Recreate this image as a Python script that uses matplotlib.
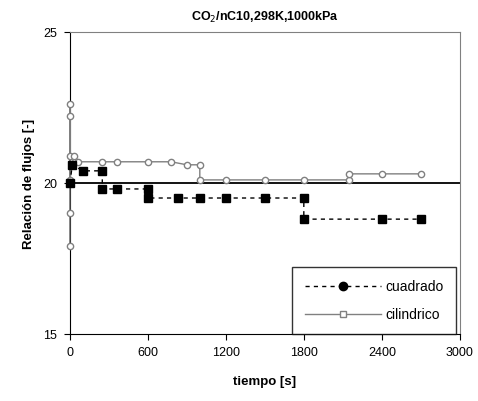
import matplotlib
matplotlib.use("Agg")
import matplotlib.pyplot as plt
from matplotlib.lines import Line2D

plt.rcParams['font.family'] = ['Liberation Sans', 'DejaVu Sans']

# Data
t_cuad = [0, 20, 100, 250, 250, 360, 600, 600, 830, 1000, 1200, 1500, 1800, 1800, 2400, 2700]
v_cuad = [20.0, 20.6, 20.4, 20.4, 19.8, 19.8, 19.8, 19.5, 19.5, 19.5, 19.5, 19.5, 19.5, 18.8, 18.8, 18.8]

t_cil = [0, 0, 0, 0, 0, 0, 30, 60, 250, 360, 600, 780, 900, 1000, 1000, 1200, 1500, 1800, 2150, 2150, 2400, 2700]
v_cil = [17.9, 19.0, 22.2, 22.6, 20.9, 20.1, 20.9, 20.7, 20.7, 20.7, 20.7, 20.7, 20.6, 20.6, 20.1, 20.1, 20.1, 20.1, 20.1, 20.3, 20.3, 20.3]

t_ref = [0, 0, 3000]
v_ref = [25, 20, 20]

x_ticks = [0, 600, 1200, 1800, 2400, 3000]
y_ticks = [15, 20, 25]

fig = plt.figure(figsize=(4.78, 4.02), dpi=100)
ax = fig.add_axes([0.146, 0.167, 0.816, 0.751])

ax.plot(t_ref, v_ref, color='black', lw=1.3, zorder=2)
ax.plot(t_cil, v_cil, color='#808080', lw=1.0, marker='o', ms=4.5,
        markerfacecolor='white', markeredgecolor='#808080', zorder=3, clip_on=False)
ax.plot(t_cuad, v_cuad, color='black', lw=1.0, ls=(0, (3, 3)), marker='s', ms=5.5,
        markerfacecolor='black', markeredgecolor='black', zorder=4, clip_on=False)

ax.set_xlim(0, 3000)
ax.set_ylim(15, 25)
ax.set_xticks(x_ticks)
ax.set_yticks(y_ticks)
ax.tick_params(direction='out', length=4, labelsize=9, colors='black', pad=5)

for s in ['top', 'right']:
    ax.spines[s].set_color('#808080')
for s in ['left', 'bottom']:
    ax.spines[s].set_color('black')

ax.set_title('CO$_2$/nC10,298K,1000kPa', fontsize=9, fontweight='bold', pad=9)
ax.set_xlabel('tiempo [s]', fontsize=9.5, fontweight='bold', labelpad=12)
ax.set_ylabel('Relación de flujos [-]', fontsize=9.5, fontweight='bold', labelpad=6)

handles = [
    Line2D([], [], color='black', ls=(0, (3, 3)), lw=1.0, marker='o', ms=6,
           markerfacecolor='black', markeredgecolor='black'),
    Line2D([], [], color='#808080', lw=1.0, marker='s', ms=4,
           markerfacecolor='white', markeredgecolor='#808080'),
]
leg = ax.legend(handles, ['cuadrado', 'cilindrico'], loc='lower right',
                bbox_to_anchor=(0.99, 0.0), borderaxespad=0.0, fontsize=10,
                frameon=True, fancybox=False, edgecolor='black', handlelength=5.5,
                borderpad=0.9, labelspacing=1.0, handletextpad=0.3)
leg.get_frame().set_linewidth(1.0)

fig.savefig('out.png', dpi=100, facecolor='white')
